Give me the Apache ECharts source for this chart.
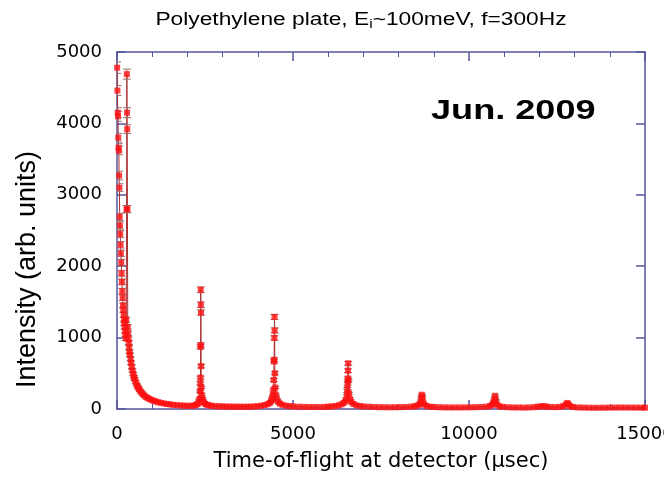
<!DOCTYPE html>
<html lang="en">
<head>
    <meta charset="utf-8">
    <title>Polyethylene plate TOF</title>
    <script src="https://cdn.jsdelivr.net/npm/echarts@6/dist/echarts.min.js"></script>
    <style>
        html, body { margin: 0; padding: 0; background: #fff; }
        #chart { width: 664px; height: 478px; }
    </style>
</head>
<body>
    <div id="chart"></div>
    <script type="text/javascript">
        // axis ticks
        var xTicks = [0, 5000, 10000, 15000];
        var yTicks = [0, 1000, 2000, 3000, 4000, 5000];

        // time-of-flight channels (usec)
        var tofUs = [
            5, 12, 20, 28, 36, 44, 52, 60, 68, 76, 84, 92, 100, 110, 120, 130, 140, 150, 160, 170,
            180, 190, 200, 210, 220, 230, 240, 250, 262, 272, 280, 285, 290, 296, 305, 315, 325, 335, 345, 355,
            370, 385, 400, 420, 440, 460, 480, 500, 530, 560, 590, 620, 650, 690, 730, 770, 820, 870, 920, 980,
            1040, 1100, 1170, 1250, 1330, 1420, 1510, 1600, 1700, 1800, 1900, 2000, 2100, 2180, 2240, 2290, 2320, 2345, 2360, 2368,
            2372, 2375, 2377, 2380, 2383, 2386, 2390, 2395, 2405, 2420, 2440, 2470, 2510, 2560, 2620, 2700, 2800, 2900, 3000, 3100,
            3200, 3300, 3400, 3500, 3600, 3700, 3800, 3900, 4000, 4100, 4200, 4280, 4340, 4380, 4410, 4430, 4445, 4455, 4462, 4466,
            4470, 4474, 4478, 4485, 4495, 4510, 4540, 4580, 4630, 4700, 4800, 4900, 5000, 5150, 5300, 5450, 5600, 5750, 5900, 6000,
            6100, 6200, 6300, 6380, 6440, 6490, 6520, 6535, 6545, 6552, 6558, 6563, 6568, 6575, 6590, 6620, 6660, 6720, 6800, 6900,
            7000, 7150, 7300, 7450, 7600, 7750, 7900, 8050, 8200, 8350, 8450, 8530, 8590, 8630, 8650, 8660, 8670, 8690, 8730, 8800,
            8900, 9000, 9150, 9300, 9450, 9600, 9750, 9900, 10050, 10200, 10350, 10500, 10600, 10660, 10700, 10720, 10740, 10760, 10800, 10870,
            10950, 11100, 11250, 11400, 11550, 11700, 11850, 11950, 12050, 12120, 12200, 12300, 12450, 12580, 12680, 12750, 12790, 12820, 12870, 12950,
            13100, 13250, 13400, 13550, 13700, 13850, 14000, 14150, 14300, 14450, 14600, 14750, 14900, 15000
        ];
        // intensity (arb. units)
        var counts = [
            4780, 4460, 4150, 4100, 3800, 3660, 3620, 3270, 3100, 2690, 2570, 2450, 2300, 2180, 2050, 1900, 1780, 1650, 1560, 1450,
            1390, 1320, 1250, 1200, 1150, 1090, 1040, 990, 1250, 2800, 4690, 4150, 3920, 2800, 1150, 1060, 980, 930, 860, 800,
            760, 700, 650, 590, 540, 490, 450, 420, 380, 340, 310, 285, 260, 235, 210, 190, 170, 155, 140, 128,
            115, 105, 95, 86, 78, 70, 64, 58, 54, 50, 47, 45, 44, 48, 56, 70, 95, 140, 250, 360,
            440, 870, 895, 1670, 1460, 1350, 600, 300, 200, 150, 115, 90, 70, 58, 50, 45, 40, 38, 36, 34,
            33, 32, 32, 31, 31, 32, 33, 36, 40, 46, 55, 68, 85, 110, 150, 195, 265, 405, 665, 690,
            995, 1290, 1100, 500, 300, 200, 140, 100, 75, 58, 46, 40, 36, 32, 30, 28, 28, 28, 30, 32,
            36, 42, 52, 65, 85, 110, 145, 216, 287, 357, 428, 537, 640, 400, 220, 140, 95, 70, 52, 42,
            36, 32, 28, 26, 25, 24, 25, 26, 28, 32, 38, 48, 62, 100, 150, 200, 170, 100, 60, 42,
            32, 28, 25, 23, 22, 22, 22, 23, 24, 26, 28, 33, 42, 60, 90, 130, 185, 120, 60, 38,
            30, 25, 22, 21, 20, 22, 26, 32, 38, 40, 34, 28, 26, 30, 40, 60, 85, 70, 40, 28,
            22, 20, 18, 17, 17, 18, 19, 20, 21, 21, 20, 20, 19, 18
        ];
        // error bar half heights
        var sigma = [
            80, 70, 70, 70, 60, 60, 60, 60, 55, 50, 50, 50, 45, 45, 45, 40, 40, 40, 40, 35,
            35, 35, 35, 35, 30, 30, 30, 30, 35, 50, 70, 70, 60, 50, 30, 30, 30, 30, 30, 25,
            25, 25, 25, 25, 20, 20, 20, 20, 20, 15, 15, 15, 15, 15, 12, 12, 12, 12, 10, 10,
            10, 10, 10, 8, 8, 8, 8, 8, 8, 8, 8, 8, 8, 8, 8, 10, 12, 12, 15, 20,
            20, 30, 30, 40, 40, 35, 25, 15, 15, 12, 10, 10, 8, 8, 8, 8, 6, 6, 6, 6,
            6, 6, 6, 6, 6, 6, 6, 6, 6, 6, 8, 8, 10, 10, 12, 12, 15, 20, 25, 25,
            30, 35, 35, 20, 15, 12, 10, 10, 8, 8, 6, 6, 6, 6, 6, 6, 6, 6, 6, 6,
            6, 6, 8, 8, 10, 10, 12, 15, 15, 20, 20, 25, 25, 20, 15, 12, 10, 8, 8, 6,
            6, 6, 6, 6, 6, 6, 6, 6, 6, 6, 6, 8, 8, 10, 12, 12, 12, 10, 8, 6,
            6, 6, 6, 6, 6, 6, 6, 6, 6, 6, 6, 6, 6, 8, 10, 10, 12, 10, 8, 6,
            6, 6, 6, 6, 6, 6, 6, 6, 6, 6, 6, 6, 6, 6, 6, 8, 8, 8, 6, 6,
            6, 6, 6, 6, 6, 6, 6, 6, 6, 6, 6, 6, 6, 6
        ];

        var frameColor = "#55559f";
        var points = tofUs.map(function (t, i) { return [t, counts[i]]; });
        var bars = tofUs.map(function (t, i) { return [t, counts[i], sigma[i]]; });

        function axisBase(pos, isX) {
            return {
                type: "value",
                position: pos,
                min: 0,
                max: isX ? 15000 : 5000,
                interval: isX ? 5000 : 1000,
                axisLine: { show: true, onZero: false, lineStyle: { color: frameColor, width: 1.5 } },
                axisTick: { show: true, inside: true, length: 9, lineStyle: { color: frameColor, width: 1.5 } },
                minorTick: { show: isX, splitNumber: 5, length: 5, lineStyle: { color: frameColor, width: 1 } },
                splitLine: { show: false },
                axisLabel: { show: false }
            };
        }

        var xBottom = axisBase("bottom", true);
        xBottom.axisLabel = {
            show: true, margin: 16, color: "#000", fontSize: 18, fontFamily: "DejaVu Sans",
            formatter: function (v) { return xTicks.indexOf(v) >= 0 ? String(v) : ""; }
        };
        xBottom.name = "Time-of-flight at detector (\u03bcsec)";
        xBottom.nameLocation = "middle";
        xBottom.nameGap = 42;
        xBottom.nameTextStyle = { color: "#000", fontSize: 21, fontFamily: "DejaVu Sans" };

        var yLeft = axisBase("left", false);
        yLeft.axisLabel = {
            show: true, margin: 15, color: "#000", fontSize: 18, fontFamily: "DejaVu Sans",
            formatter: function (v) { return yTicks.indexOf(v) >= 0 ? String(v) : ""; }
        };
        yLeft.name = "Intensity (arb. units)";
        yLeft.nameLocation = "middle";
        yLeft.nameGap = 76;
        yLeft.nameTextStyle = { color: "#000", fontSize: 27, fontFamily: "Liberation Sans", padding: [0, 78, 0, 0] };

        var chart = echarts.init(document.getElementById("chart"));
        chart.setOption({
            backgroundColor: "#fff",
            animation: false,
            grid: { left: 117, right: 19, top: 52, bottom: 69, containLabel: false, outerBoundsMode: "none" },
            xAxis: [xBottom, axisBase("top", true)],
            yAxis: [yLeft, axisBase("right", false)],
            graphic: [
                {
                    type: "text", x: 361, y: 20, scaleX: 1.3, z: 10,
                    style: {
                        text: "{m|Polyethylene plate, E}{s|i}{m|~100meV, f=300Hz}",
                        textAlign: "center", textVerticalAlign: "middle",
                        rich: {
                            m: { fontSize: 17.5, fontFamily: "Liberation Sans", fill: "#000", lineHeight: 22 },
                            s: { fontSize: 12, fontFamily: "Liberation Sans", fill: "#000", lineHeight: 22, padding: [10, 0, 0, 0] }
                        }
                    }
                },
                {
                    type: "text", x: 431, y: 97, scaleX: 1.29, z: 10,
                    style: {
                        text: "Jun. 2009", textAlign: "left", textVerticalAlign: "alphabetic",
                        font: "bold 28px 'Liberation Sans'", fill: "#000"
                    }
                }
            ],
            series: [
                {
                    type: "line",
                    data: points,
                    showSymbol: false,
                    lineStyle: { color: "#a83030", width: 1 },
                    z: 1
                },
                {
                    type: "custom",
                    data: bars,
                    clip: true,
                    z: 2,
                    renderItem: function (params, api) {
                        var x = api.value(0), y = api.value(1), e = api.value(2);
                        var hi = api.coord([x, y + e]);
                        var lo = api.coord([x, y - e]);
                        var w = 4;
                        var st = { stroke: "#a06a6a", lineWidth: 1 };
                        return {
                            type: "group",
                            children: [
                                { type: "line", shape: { x1: hi[0], y1: hi[1], x2: lo[0], y2: lo[1] }, style: st },
                                { type: "line", shape: { x1: hi[0] - w, y1: hi[1], x2: hi[0] + w, y2: hi[1] }, style: st },
                                { type: "line", shape: { x1: lo[0] - w, y1: lo[1], x2: lo[0] + w, y2: lo[1] }, style: st }
                            ]
                        };
                    }
                },
                {
                    type: "scatter",
                    data: points,
                    symbol: "rect",
                    symbolSize: 6,
                    itemStyle: { color: "#ff1010" },
                    z: 3
                }
            ]
        });
    </script>
</body>
</html>
